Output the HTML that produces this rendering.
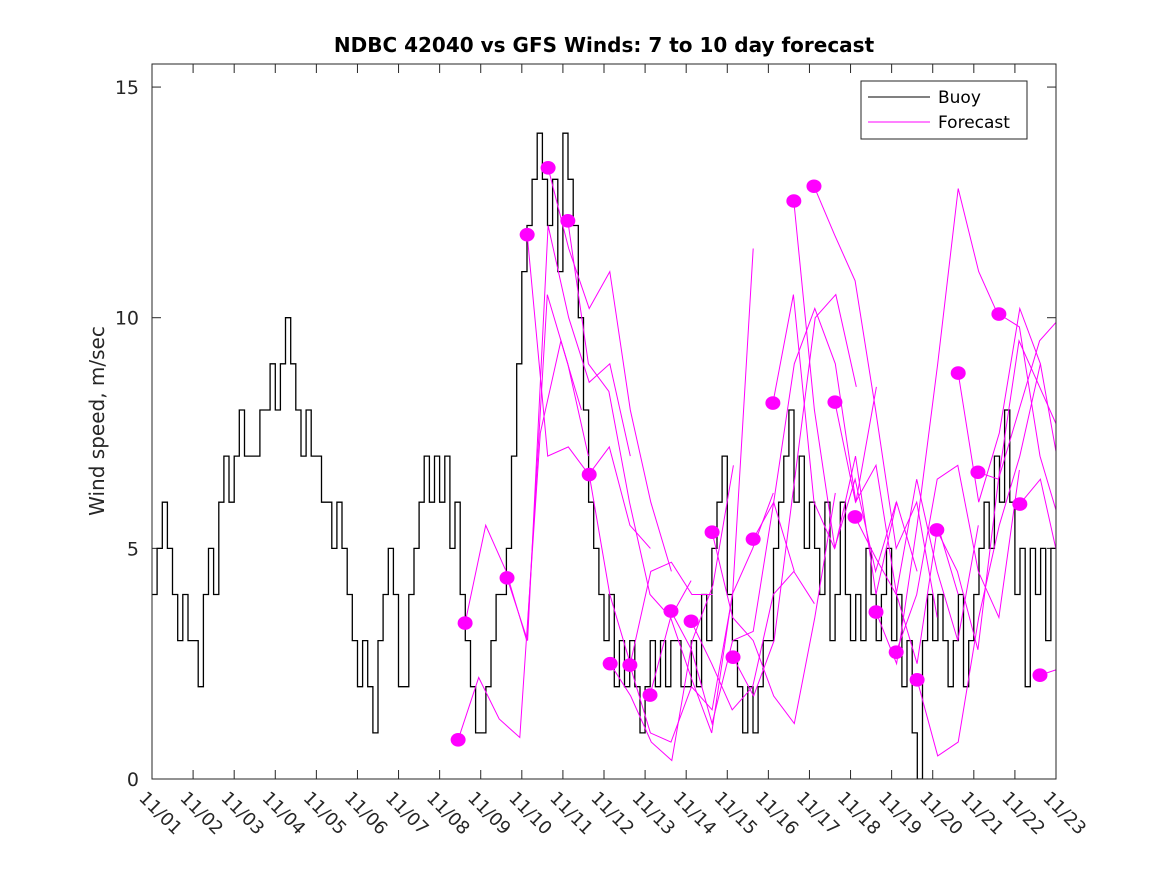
<!DOCTYPE html>
<html><head><meta charset="utf-8"><style>
html,body{margin:0;padding:0;background:#fff;}
svg{display:block;font-family:"DejaVu Sans","Liberation Sans",sans-serif;}
</style></head><body>
<svg id="chart" width="1167" height="875" viewBox="0 0 1167 875">
<rect width="1167" height="875" fill="#fff"/>
<text x="604" y="52" text-anchor="middle" font-size="20" font-weight="bold">NDBC 42040 vs GFS Winds: 7 to 10 day forecast</text>
<text transform="translate(104,421) rotate(-90)" text-anchor="middle" font-size="20" fill="#262626">Wind speed, m/sec</text>
<defs><clipPath id="pc"><rect x="152" y="64" width="904" height="715"/></clipPath></defs>
<g id="axes"></g>
<g id="marks" clip-path="url(#pc)"></g>
<rect x="152" y="64" width="904" height="715" fill="none" stroke="#262626" stroke-width="1"/>
<g>
<rect x="861" y="81" width="166" height="58" fill="#fff" stroke="#262626"/>
<line x1="868" y1="97" x2="930" y2="97" stroke="#000"/>
<text x="938" y="103" font-size="17">Buoy</text>
<line x1="868" y1="122" x2="930" y2="122" stroke="#f0f"/>
<text x="938" y="128" font-size="17">Forecast</text>
</g>
</svg>
<script>
const xTickLabels=["11/01","11/02","11/03","11/04","11/05","11/06","11/07","11/08","11/09","11/10","11/11","11/12","11/13","11/14","11/15","11/16","11/17","11/18","11/19","11/20","11/21","11/22","11/23"];
const yTicks=[0,5,10,15];
const buoyStepDays=0.125;
const buoyValues=[
4,5,6,5,4,3,4,3, 3,2,4,5,4,6,7,6, 7,8,7,7,7,8,8,9, 8,9,10,9,8,7,8,7,
7,6,6,5,6,5,4,3, 2,3,2,1,3,4,5,4, 2,2,4,5,6,7,6,7, 6,7,5,6,4,3,2,1,
1,2,3,4,4,5,7,9, 11,12,13,14,13,12,13,11, 14,13,12,10,8,6,5,4, 3,4,2,3,2,3,2,1,
2,3,2,3,2,3,3,2, 2,3,2,4,3,5,6,7, 4,3,2,1,2,1,2,3, 3,5,6,7,8,6,7,5,
6,5,4,6,3,4,6,4, 3,4,3,5,4,3,4,5, 3,4,2,3,1,0,3,4, 3,4,3,2,3,4,2,3,
4,5,6,5,7,6,8,6, 4,5,2,5,4,5,3,5];
const fcStepDays=0.5;
const fcStarts=[7.45,7.62,8.64,9.13,9.64,10.12,10.64,11.15,11.63,12.12,12.63,13.12,13.63,14.14,14.63,15.11,15.62,16.11,16.62,17.11,17.62,18.11,18.62,19.1,19.62,20.1,20.61,21.12,21.61];
const fcValues=[
[0.85,2.2,1.3,0.9,7.5,9.5,8.0],
[3.38,5.5,4.5,3.0,10.5,9.0,7.0],
[4.36,3.0,12.0,10.0,8.6,9.0,7.0],
[11.8,7.0,7.2,6.6,7.2,5.5,5.0],
[13.25,11.5,10.2,11.0,8.0,6.0,4.5],
[12.1,9.0,8.4,6.0,4.0,3.5,4.3],
[6.6,4.0,2.5,4.5,4.7,4.0,4.0],
[2.5,1.8,0.8,0.4,3.0,4.2,6.8],
[2.47,1.0,0.8,2.0,1.5,4.0,11.5],
[1.82,3.5,2.2,1.0,4.0,5.0,6.2],
[3.64,2.8,1.2,3.0,3.2,6.0,4.5],
[3.42,2.5,1.5,2.0,4.0,4.5,3.8],
[5.35,3.5,3.0,1.8,1.2,3.5,6.2],
[2.64,1.8,3.0,6.5,10.0,10.5,8.5],
[5.2,6.0,9.0,10.2,9.0,6.0,8.5],
[8.15,10.5,6.0,5.0,6.5,4.5,6.0],
[12.53,8.0,5.0,7.0,4.0,6.0,4.5],
[12.85,11.8,10.8,8.0,5.0,6.0,3.5],
[8.17,6.0,6.8,4.0,2.5,5.5,4.0],
[5.68,4.8,4.0,6.5,4.5,3.0,5.5],
[3.62,2.5,5.5,9.0,12.8,11.0,10.0],
[2.75,4.0,6.5,6.8,4.5,3.5,6.7],
[2.15,0.5,0.8,3.5,5.5,7.0,9.0],
[5.4,4.5,2.8,6.5,8.0,9.5,10.0],
[8.8,6.0,7.5,10.2,9.0,6.5,5.5],
[6.65,6.5,9.5,8.5,7.5,4.0,3.5],
[10.08,9.8,7.0,5.5,4.0,3.0,2.5],
[5.96,6.5,4.5,3.0,3.4,3.0,3.0],
[2.25,2.4,2.6,2.5,2.5,2.5,2.5]];
const X0=152,X1=1056,Y0=779,Y1=64,DMAX=22,VMAX=15.5;
const xs=d=>X0+d*(X1-X0)/DMAX;
const ys=v=>Y0-v*(Y0-Y1)/VMAX;
const NS="http://www.w3.org/2000/svg";
function mk(t,a,p){const e=document.createElementNS(NS,t);for(const k in a)e.setAttribute(k,a[k]);p.appendChild(e);return e;}
const axes=document.getElementById('axes'),marks=document.getElementById('marks');
xTickLabels.forEach((lab,i)=>{
 const x=xs(i);
 const t1=mk('line',{x1:x,y1:Y0,x2:x,y2:Y0-9,stroke:'#262626'},axes);
 
 
 const t2=mk('line',{x1:x,y1:Y1,x2:x,y2:Y1+9,stroke:'#262626'},axes);
 
 
 const tx=mk('text',{transform:`translate(${x-14},${Y0+20}) rotate(45)`,'font-size':18,fill:'#262626'},axes);
 tx.textContent=lab;
 
 
});
yTicks.forEach(v=>{
 const y=ys(v);
 const t1=mk('line',{x1:X0,y1:y,x2:X0+9,y2:y,stroke:'#262626'},axes);
 
 
 const t2=mk('line',{x1:X1,y1:y,x2:X1-9,y2:y,stroke:'#262626'},axes);
 
 
 const tx=mk('text',{x:X0-13,y:y+7,'text-anchor':'end','font-size':19,fill:'#262626'},axes);
 tx.textContent=v;
 
 
});
let d='';
buoyValues.forEach((v,i)=>{
 const xa=xs(i*buoyStepDays),xb=xs((i+1)*buoyStepDays),y=ys(v);
 d+=(i?'L':'M')+xa.toFixed(1)+','+y.toFixed(1)+'L'+xb.toFixed(1)+','+y.toFixed(1);
});
const bp=mk('path',{d:d,fill:'none',stroke:'#000','stroke-width':1.3},marks);


fcStarts.forEach((s,k)=>{
 const vals=fcValues[k];
 const pts=vals.map((v,j)=>xs(s+j*fcStepDays).toFixed(1)+','+ys(v).toFixed(1)).join(' ');
 const pl=mk('polyline',{points:pts,fill:'none',stroke:'#f0f','stroke-width':1},marks);
 
 
});
fcStarts.forEach((s,k)=>{
 const c=mk('ellipse',{cx:xs(s),cy:ys(fcValues[k][0]),rx:7.5,ry:6.8,fill:'#f0f'},marks);
 
 
});
</script>
</body></html>
